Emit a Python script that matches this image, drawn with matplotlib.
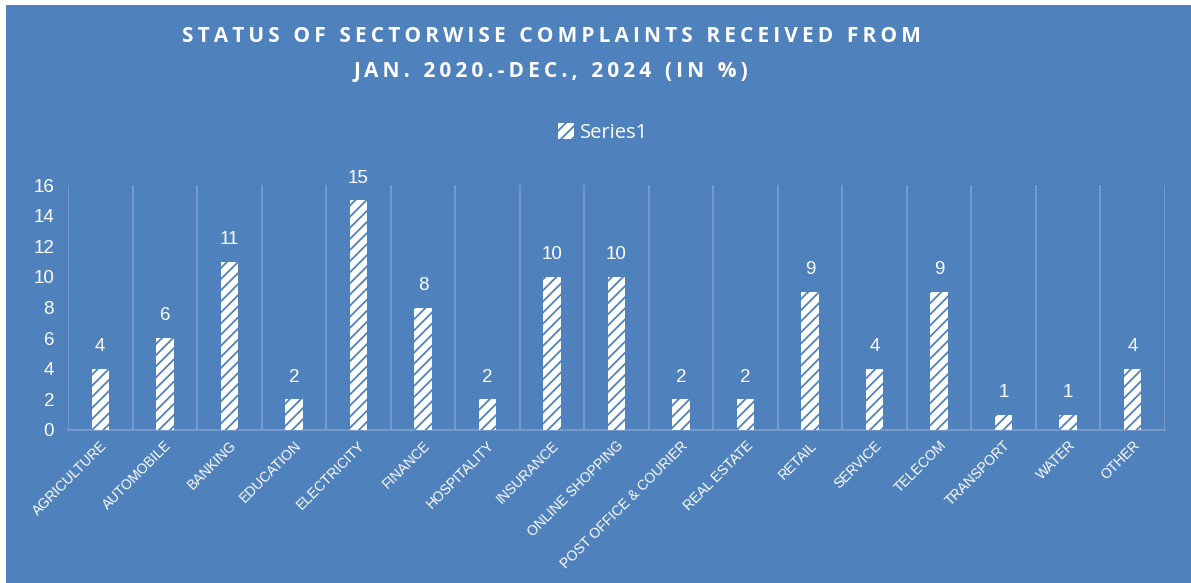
import matplotlib
matplotlib.use('Agg')
import matplotlib.pyplot as plt
from matplotlib.patches import Rectangle, Patch
import numpy as np

sectors = ['AGRICULTURE', 'AUTOMOBILE', 'BANKING', 'EDUCATION', 'ELECTRICITY',
           'FINANCE', 'HOSPITALITY', 'INSURANCE', 'ONLINE SHOPPING',
           'POST OFFICE & COURIER', 'REAL ESTATE', 'RETAIL', 'SERVICE',
           'TELECOM', 'TRANSPORT', 'WATER', 'OTHER']
share = [4, 6, 11, 2, 15, 8, 2, 10, 10, 2, 2, 9, 4, 9, 1, 1, 4]
yticks = [0, 2, 4, 6, 8, 10, 12, 14, 16]
title1 = 'STATUS OF SECTORWISE COMPLAINTS RECEIVED FROM'
title2 = 'JAN. 2020.-DEC., 2024 (IN %)'

bg = '#4F81BD'
grid_c = '#7D9FCF'
plt.rcParams['font.family'] = ['Liberation Sans', 'DejaVu Sans']
plt.rcParams['hatch.linewidth'] = 1.3

fig = plt.figure(figsize=(11.91, 5.83), dpi=100, facecolor=bg)
# white strip at left and top like the original
fig.patches.append(Rectangle((0, 0), 6/1191, 1, transform=fig.transFigure,
                             facecolor='white', edgecolor='none', zorder=-5))
fig.patches.append(Rectangle((0, 1 - 5/583), 1, 5/583, transform=fig.transFigure,
                             facecolor='white', edgecolor='none', zorder=-5))

ax = fig.add_axes([68/1191, 1 - 430/583, (1165 - 68)/1191, (430 - 185)/583])
ax.set_facecolor(bg)

x = np.arange(len(sectors))
bars = ax.bar(x, share, width=0.27, color='white', edgecolor=bg, linewidth=0,
              hatch='///', zorder=3)

for xi, v in zip(x, share):
    ax.text(xi, v + 0.9, str(v), ha='center', va='bottom', color='white', fontsize=13.5)

ax.set_xlim(-0.5, len(sectors) - 0.5)
ax.set_ylim(0, 16)
ax.set_yticks(yticks)
ax.set_yticklabels([str(t) for t in yticks], color='white', fontsize=13.5)
ax.set_xticks(x)
ax.set_xticklabels(sectors, rotation=45, ha='right', rotation_mode='anchor',
                   color='white', fontsize=10)
ax.tick_params(axis='both', length=0)
ax.tick_params(axis='x', pad=6)
ax.tick_params(axis='y', pad=10)

# category separators
for b in np.arange(-0.5, len(sectors), 1.0):
    ax.axvline(b, color=grid_c, linewidth=1.2, zorder=1)
for s in ['top', 'right', 'left']:
    ax.spines[s].set_visible(False)
ax.spines['bottom'].set_color(grid_c)
ax.spines['bottom'].set_linewidth(1.2)

# letter-spaced title
sp = '\u2009'
fig.text(551/1191, 1 - 36/583, sp.join(title1),
         ha='center', va='center', color='white', fontsize=15, fontweight='bold',
         family=['Open Sans', 'DejaVu Sans'])
fig.text(551/1191, 1 - 72/583, sp.join(title2),
         ha='center', va='center', color='white', fontsize=15, fontweight='bold',
         family=['Open Sans', 'DejaVu Sans'])

handle = Patch(facecolor='white', edgecolor=bg, hatch='///', linewidth=0)
leg = fig.legend([handle], ['Series1'], loc='center', bbox_to_anchor=(603/1191, 1 - 133/583),
                 frameon=False, fontsize=14.5, handlelength=0.8, handleheight=0.8,
                 handletextpad=0.3)
for t in leg.get_texts():
    t.set_color('white')
    t.set_family(['Open Sans', 'DejaVu Sans'])

fig.savefig('out.png', dpi=100, facecolor=bg)
